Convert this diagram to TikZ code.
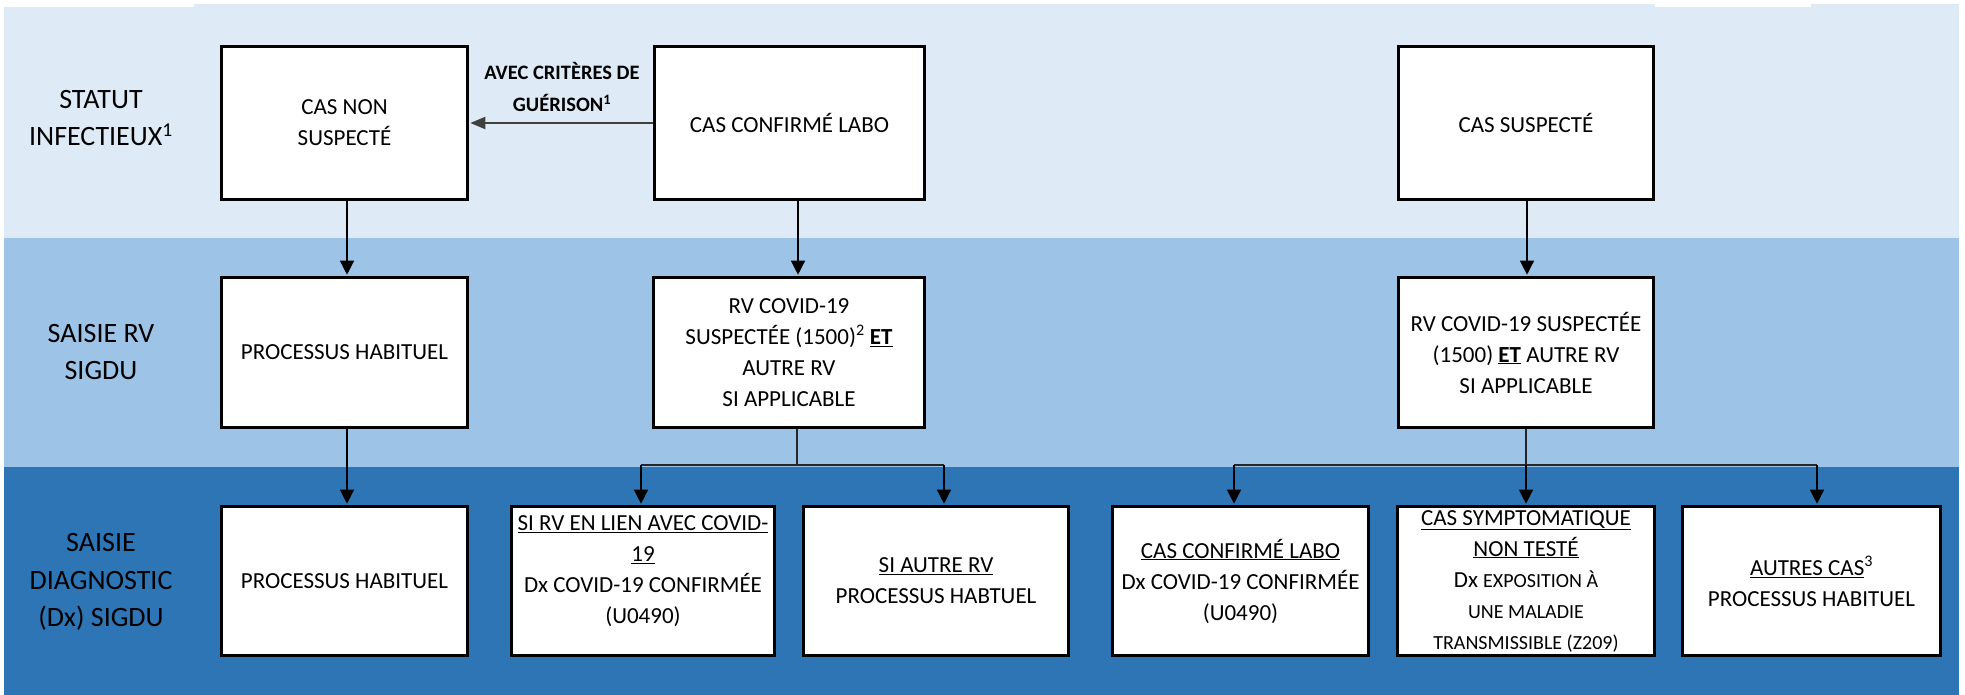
\documentclass[tikz,border=0pt]{standalone}
\usepackage{fontspec}
\setmainfont{Carlito}
\usetikzlibrary{arrows.meta}
\definecolor{bandA}{HTML}{DEEBF7}
\definecolor{bandB}{HTML}{9DC3E6}
\definecolor{bandC}{HTML}{2E75B6}
\definecolor{lineGray}{HTML}{404040}
\begin{document}
\begin{tikzpicture}[x=1pt,y=-1pt,
  box/.style={draw=black,line width=3.2pt,fill=white,inner sep=0pt,align=center,
    font=\fontsize{23}{31}\selectfont},
  rowa/.style={minimum height=153pt},
  rowb/.style={minimum height=150pt},
  rowc/.style={minimum height=149pt},
  lbl/.style={align=center,font=\fontsize{28}{37.5}\selectfont},
  arr/.style={line width=1.3pt,shorten >=1.2pt,-{Triangle[length=14pt,width=14pt]}},
  conn/.style={line width=1.3pt,draw=black!85}]
\useasboundingbox (0,0) rectangle (1965,695);
% bands
\fill[bandA] (4,4) rectangle (1959,238);
\fill[bandB] (4,238) rectangle (1959,467);
\fill[bandC] (4,467) rectangle (1959,695);
\fill[white] (0,0) rectangle (194,7);
\fill[white] (1655,0) rectangle (1811,7);
% row labels
\node[lbl] (L1) at (101,118) {STATUT\\INFECTIEUX\textsuperscript{1}};
\node[lbl] (L2) at (101,352) {SAISIE RV\\SIGDU};
\node[lbl] (L3) at (101,582) {SAISIE\\DIAGNOSTIC\\(Dx) SIGDU};
% row 1
\node[box,rowa,minimum width=246pt] (A) at (344.5,123) {CAS NON\\SUSPECT\'E};
\node[box,rowa,minimum width=270pt] (B) at (789.5,123) {CAS CONFIRM\'E LABO};
\node[box,rowa,minimum width=255pt] (C) at (1526,123) {CAS SUSPECT\'E};
% row 2
\node[box,rowb,minimum width=246pt] (D) at (344.5,352.5) {PROCESSUS HABITUEL};
\node[box,rowb,minimum width=271pt] (E) at (789,352.5) {RV COVID-19\\SUSPECT\'EE (1500)\textsuperscript{2} \underline{\textbf{ET}}\\AUTRE RV\\SI APPLICABLE};
\node[box,rowb,minimum width=255pt] (F) at (1526,352.5) {RV COVID-19 SUSPECT\'EE\\(1500) \underline{\textbf{ET}} AUTRE RV\\SI APPLICABLE};
% row 3
\node[box,rowc,minimum width=246pt] (G) at (344.5,581) {PROCESSUS HABITUEL};
\node[box,rowc,minimum width=263pt] (H) at (643,581) {\underline{SI RV EN LIEN AVEC COVID-}\\\underline{19}\\Dx COVID-19 CONFIRM\'EE\\(U0490)\\[-9pt]\mbox{}};
\node[box,rowc,minimum width=265pt] (I) at (936,581) {\underline{SI AUTRE RV}\\PROCESSUS HABTUEL};
\node[box,rowc,minimum width=256pt] (J) at (1240.5,581) {\underline{CAS CONFIRM\'E LABO}\\Dx COVID-19 CONFIRM\'EE\\(U0490)};
\node[box,rowc,minimum width=257pt] (K) at (1526,581) {\underline{CAS SYMPTOMATIQUE}\\\underline{NON TEST\'E}\\Dx {\fontsize{20}{31}\selectfont EXPOSITION \`A}\\{\fontsize{20}{31}\selectfont UNE MALADIE}\\{\fontsize{20}{31}\selectfont TRANSMISSIBLE (Z209)}};
\node[box,rowc,minimum width=258pt] (L) at (1811.5,581) {\underline{AUTRES CAS}\textsuperscript{3}\\PROCESSUS HABITUEL};
% horizontal arrow with label
\draw[line width=2pt,draw=lineGray,shorten >=1.2pt,-{Triangle[length=15pt,width=12pt]}] (B.west) -- (A.east);
\node[align=center,font=\bfseries\fontsize{20.5}{32}\selectfont] (G1) at (562,87) {AVEC CRIT\`ERES DE\\GU\'ERISON\textsuperscript{1}};
% vertical connectors
\coordinate (xA) at (347,0);
\coordinate (xB) at (798,0);
\coordinate (xC) at (1527,0);
\draw[arr] (A.south -| xA) -- (D.north -| xA);
\draw[arr] (D.south -| xA) -- (G.north -| xA);
\draw[arr] (B.south -| xB) -- (E.north -| xB);
\draw[arr] (C.south -| xC) -- (F.north -| xC);
% branch from E
\coordinate (jE) at (797,465);
\coordinate (hE) at (641,465);
\coordinate (iE) at (944,465);
\draw[conn] (E.south -| jE) -- (jE);
\draw[conn] (hE) -- (iE);
\draw[arr] (hE) -- (H.north -| hE);
\draw[arr] (iE) -- (I.north -| iE);
% branch from F
\coordinate (jF) at (1526,465);
\coordinate (jJ) at (1234,465);
\coordinate (jL) at (1817,465);
\draw[conn] (F.south -| jF) -- (jF);
\draw[conn] (jJ) -- (jL);
\draw[arr] (jJ) -- (J.north -| jJ);
\draw[arr] (jF) -- (K.north -| jF);
\draw[arr] (jL) -- (L.north -| jL);
\end{tikzpicture}
\end{document}
